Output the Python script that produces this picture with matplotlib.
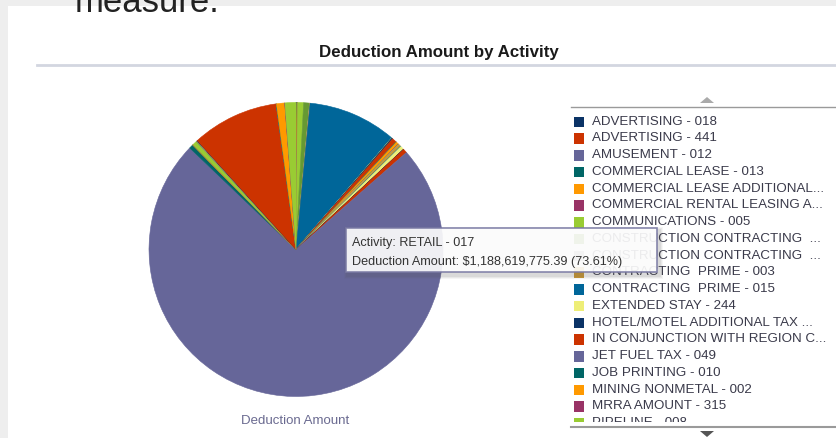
import matplotlib.pyplot as plt
from matplotlib.patches import Rectangle, Polygon

# legend labels as shown (truncated), pie order = legend order
activities = [
    'ADVERTISING - 018', 'ADVERTISING - 441', 'AMUSEMENT - 012',
    'COMMERCIAL LEASE - 013', 'COMMERCIAL LEASE ADDITIONAL...',
    'COMMERCIAL RENTAL LEASING A...', 'COMMUNICATIONS - 005',
    'CONSTRUCTION CONTRACTING  ...', 'CONSTRUCTION CONTRACTING  ...',
    'CONTRACTING  PRIME - 003', 'CONTRACTING  PRIME - 015',
    'EXTENDED STAY - 244', 'HOTEL/MOTEL ADDITIONAL TAX ...',
    'IN CONJUNCTION WITH REGION C...', 'JET FUEL TAX - 049',
    'JOB PRINTING - 010', 'MINING NONMETAL - 002', 'MRRA AMOUNT - 315',
    'PIPELINE - 008', 'PRIVATE CAR LINE - 009', 'PUBLICATION - 006',
    'RENTAL OCCUPANCY - 045', 'RENTAL OF PERSONAL PROPERTY - 014',
    'RESIDENTIAL RENTAL - 046', 'RESIDENTIAL UTILITY - 053',
    'RESTAURANTS AND BARS - 011', 'RETAIL - 017', 'SEVERANCE - 041',
    'SPECIAL TAXES - 330', 'TELECOM DEVICES - 031', 'TIMBERING - 020',
    'TRANSIENT LODGING - 025', 'TRANSPORTING - 004', 'USE TAX - 029',
    'USE TAX DIRECT - 053', 'USE TAX UTILITIES - 030', 'UTILITIES - 007',
    'UTILITIES - 307', 'WASTE COLLECTION - 019', 'WASTE DISPOSAL - 021',
    'WATER - 032', 'WHOLESALE - 034', 'WIRELESS - 035',
]
# deduction amount, millions of dollars
deduction = [
    0.32, 0.16, 0.81, 0.48, 0.32, 0.48, 10.82, 10.50, 0.32, 0.48,
    157.44, 0.32, 1.94, 8.07, 0.32, 0.32, 4.84, 0.48, 0.32, 0.16,
    0.48, 4.04, 0.81, 6.46, 0.32, 7.43, 1188.62, 7.27, 0.48, 0.32,
    8.07, 0.32, 0.32, 0.48, 0.48, 0.32, 0.32, 154.21, 0.32, 0.32,
    14.53, 0.32, 19.54,
]
palette = ['#0b3366', '#cc3300', '#666699', '#006666', '#ff9900', '#993366',
           '#99cc33', '#669933', '#999999', '#cc9933', '#006699', '#eeee77']
colors = [palette[i % 12] for i in range(len(activities))]
n_visible = 19

W, H = 837, 438
fig = plt.figure(figsize=(W / 100, H / 100), dpi=100)
fig.patch.set_facecolor('#eeeeee')

def frac(x0, y0, x1, y1):
    return [x0 / W, 1 - y1 / H, (x1 - x0) / W, (y1 - y0) / H]

bg = fig.add_axes([0, 0, 1, 1])
bg.set_xlim(0, W)
bg.set_ylim(H, 0)
bg.axis('off')
bg.add_patch(Rectangle((8, 6), W - 8, H - 6, fc='white', ec='none'))
# page text above the chart, cut off at the top as in the screenshot
bg.text(75, 12, 'measure.', fontsize=25, family='Liberation Sans',
        color='#222222', va='baseline')
bg.text(439, 52, 'Deduction Amount by Activity', fontsize=12.2, weight='bold',
        family='Liberation Sans', color='#1a1a1a',
        ha='center', va='center')
bg.plot([37, W], [65, 65], color='#d3d6e0', lw=2)
bg.plot([571, W], [106.5, 106.5], color='#9a9a9a', lw=1)
bg.plot([571, W], [427, 427], color='#9a9a9a', lw=1.5)
bg.add_patch(Polygon([[700, 103], [714, 103], [707, 97]], fc='#aaaaaa', ec='none'))
bg.add_patch(Polygon([[700, 431], [714, 431], [707, 437]], fc='#555555', ec='none'))
bg.text(295, 421, 'Deduction Amount', fontsize=9.5, family='Liberation Sans',
        color='#6a6a90', ha='center', va='center')

# pie
cx, cy, r = 296, 249.5, 147
ax = fig.add_axes(frac(cx - r, cy - r, cx + r, cy + r))
ax.set_zorder(1)
wedges, _ = ax.pie(deduction, colors=colors, startangle=90, counterclock=False)
for w, c in zip(wedges, colors):
    w.set_edgecolor(c)
    w.set_linewidth(0.4)
    w.set_clip_on(False)
ax.set_xlim(-1, 1)
ax.set_ylim(-1, 1)
ax.axis('off')

# legend
lg = fig.add_axes(frac(571, 108, W, 422))
lg.set_zorder(2)
lg.set_xlim(571, W)
lg.set_ylim(422, 108)
lg.axis('off')
for i in range(n_visible):
    y = 121.7 + 16.75 * i
    lg.add_patch(Rectangle((574, y - 5), 10, 10.5, fc=colors[i], ec='none',
                           clip_on=True))
    lg.text(592, y, activities[i], fontsize=9.6, family='Liberation Sans',
            color='#3a3a4a', va='center', clip_on=True)

# tooltip
tp = fig.add_axes([0, 0, 1, 1])
tp.set_zorder(3)
tp.set_xlim(0, W)
tp.set_ylim(H, 0)
tp.axis('off')
for d, a in [(4, 0.06), (3, 0.08), (2, 0.1)]:
    tp.add_patch(Rectangle((346 - d + 2, 228 - d + 3), 311 + 2 * d, 44 + 2 * d,
                           fc='#555555', ec='none', alpha=a))
tp.add_patch(Rectangle((346, 228), 311, 44, fc='white', ec='#7a7aa4', lw=1.2,
                       alpha=0.9))
ret = activities.index('RETAIL - 017')
tp.text(352, 243, 'Activity: ' + activities[ret], fontsize=9.1,
        family='Liberation Sans', color='#333333', va='center')
tp.text(352, 261.5, 'Deduction Amount: $1,188,619,775.39 (73.61%)', fontsize=9.1,
        family='Liberation Sans', color='#333333', va='center')

fig.savefig('out.png', dpi=100)
